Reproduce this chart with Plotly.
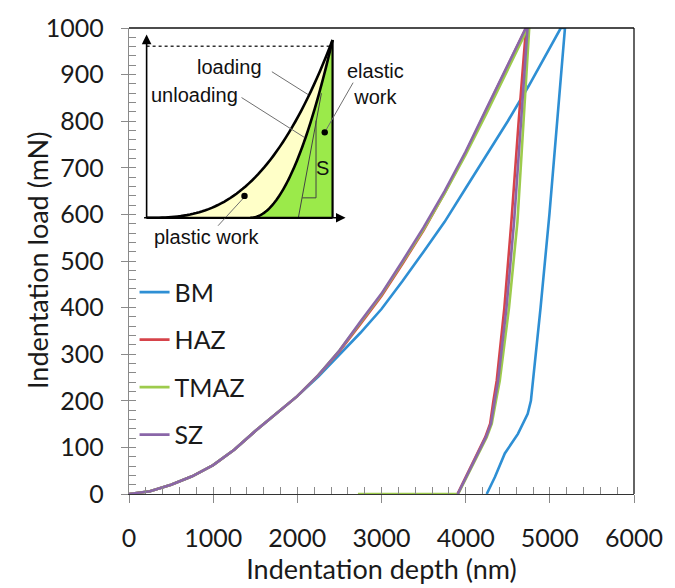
import plotly.graph_objects as go

# ---------------- data ----------------
load_depth = [0, 250, 500, 750, 1000, 1250, 1500, 1750, 2000, 2250, 2500, 2750,
              3000, 3250, 3500, 3750, 4000, 4250, 4500, 4715]
sz_load = [0, 6, 20, 38, 62, 95, 135, 172, 210, 255, 308, 370,
           430, 500, 572, 650, 735, 828, 920, 1000]
haz_load = [0, 6, 20, 38, 62, 95, 135, 172, 210, 255, 306, 365,
            425, 494, 566, 646, 732, 826, 918, 1000]
tmaz_load_depth = [0, 250, 500, 750, 1000, 1250, 1500, 1750, 2000, 2250, 2500, 2750,
                   3000, 3250, 3500, 3750, 4000, 4250, 4500, 4740]
tmaz_load = [0, 6, 20, 38, 62, 95, 135, 172, 210, 255, 308, 368,
             428, 497, 568, 645, 728, 818, 910, 1000]

bm_load_depth = [0, 250, 500, 750, 1000, 1250, 1500, 1750, 2000, 2250, 2500, 2750,
                 3000, 3250, 3500, 3750, 4000, 4250, 4500, 4750, 5000, 5130]
bm_load = [0, 6, 20, 38, 62, 95, 135, 172, 210, 252, 300, 346,
           397, 457, 520, 584, 656, 728, 800, 876, 958, 1000]

unload_load = [1000, 800, 584, 400, 243, 200, 151, 122, 65, 37, 0]
bm_unload_load = [1000, 800, 600, 400, 240, 200, 172, 129, 87, 37, 0]
bm_unload_depth = [5180, 5090, 4995, 4890, 4800, 4775, 4737, 4621, 4465, 4349, 4250]
haz_unload_depth = [4717, 4630, 4543, 4460, 4369, 4330, 4291, 4233, 4078, 4000, 3903]
sz_unload_depth = [4735, 4655, 4575, 4485, 4385, 4345, 4300, 4240, 4080, 4000, 3905]
tmaz_unload_depth = [4755, 4690, 4615, 4515, 4405, 4360, 4310, 4250, 4090, 4010, 3910]
tmaz_tail_depth = [2720]
tmaz_tail_load = [0]

series = ["BM", "HAZ", "TMAZ", "SZ"]
colors = ["#2E8FD4", "#D6434A", "#9DCB4C", "#8A66A8"]

x_ticks = [0, 1000, 2000, 3000, 4000, 5000, 6000]
y_ticks = [0, 100, 200, 300, 400, 500, 600, 700, 800, 900, 1000]

curves = {
    "BM": (bm_load_depth + bm_unload_depth, bm_load + bm_unload_load),
    "HAZ": (load_depth + haz_unload_depth, haz_load + unload_load),
    "TMAZ": (tmaz_load_depth + tmaz_unload_depth + tmaz_tail_depth,
             tmaz_load + unload_load + tmaz_tail_load),
    "SZ": (load_depth + sz_unload_depth, sz_load + unload_load),
}

# ---------------- figure ----------------
W, H = 675, 588
L, R, T, B = 129, 645, 25, 494

fig = go.Figure()
for name, col in zip(series, colors):
    xs, ys = curves[name]
    fig.add_trace(go.Scatter(x=xs, y=ys, mode="lines", name=name,
                             line=dict(color=col, width=2.6),
                             legendgroup=name))

# invisible helper trace for the overlay tick axes
fig.add_trace(go.Scatter(x=[0], y=[0], xaxis="x3", yaxis="y3", mode="markers",
                         marker=dict(opacity=0), showlegend=False, hoverinfo="skip"))

tick_font = dict(family="Lato", size=25, color="#1a1a1a")

fig.update_layout(
    width=W, height=H,
    margin=dict(l=L, r=W - R, t=T, b=H - B),
    paper_bgcolor="white", plot_bgcolor="white",
    font=dict(family="Lato", color="#1a1a1a"),
    xaxis=dict(range=[0, 6000], tickvals=x_ticks, ticks="outside", ticklen=8,
               tickcolor="#8a8a8a", tickwidth=1, showline=True, linecolor="#333333",
               linewidth=1.3, showgrid=False, zeroline=False, tickfont=tick_font,
               ticklabelstandoff=14,
               title=dict(text="Indentation depth (nm)", font=dict(family="Lato", size=27),
                          standoff=5)),
    yaxis=dict(range=[0, 1000], tickvals=y_ticks, ticks="outside", ticklen=7,
               tickcolor="#8a8a8a", tickwidth=1, showline=True, linecolor="#8a8a8a",
               linewidth=1.3, showgrid=False, zeroline=False, tickfont=tick_font,
               ticklabelstandoff=12),
    xaxis3=dict(range=[0, 6000], overlaying="x", anchor="y", side="bottom",
                dtick=200, tick0=0, ticks="inside", ticklen=7, tickcolor="#8a8a8a",
                showticklabels=False, showline=False, showgrid=False, zeroline=False),
    yaxis3=dict(range=[0, 1000], overlaying="y", anchor="x", side="left",
                dtick=20, tick0=0, ticks="inside", ticklen=7, tickcolor="#8a8a8a",
                showticklabels=False, showline=False, showgrid=False, zeroline=False),
    legend=dict(x=0.011, y=0.482, xanchor="left", yanchor="top",
                font=dict(family="Lato", size=25, color="#1a1a1a"),
                bgcolor="rgba(0,0,0,0)", tracegroupgap=12, itemwidth=30),
    showlegend=True,
)

# y-axis title placed as rotated text
fig.add_annotation(x=(35 - L) / (R - L), y=0.5, xref="paper", yref="paper",
                   text="Indentation load (mN)", textangle=-90, showarrow=False,
                   xanchor="center", yanchor="middle",
                   font=dict(family="Lato", size=27, color="#1a1a1a"))

# ---------------- frame (top / right border) ----------------
fig.add_shape(type="line", xref="paper", yref="paper", x0=0, y0=1, x1=1, y1=1,
              line=dict(color="#111111", width=1.6))
fig.add_shape(type="line", xref="paper", yref="paper", x0=1, y0=0, x1=1, y1=1,
              line=dict(color="#111111", width=1.3))

# ---------------- inset schematic ----------------
def P(px, py):
    return (px - L) / (R - L), (B - py) / (B - T)

OX, OY, SX, SY = 147, 216, 190, 179   # inset origin and size in pixels

def U(u, v):
    return P(OX + SX * u, OY - SY * v)

def path_of(pts, close=False):
    s = "M " + " L ".join(f"{x:.5f},{y:.5f}" for x, y in pts)
    return s + (" Z" if close else "")

N = 60
m_load, u0, m_unl = 2.75, 0.558, 2.0
loading_pts = [U(i / N, (i / N) ** m_load) for i in range(N + 1)]
unloading_pts = [U(u0 + (1 - u0) * i / N, (i / N) ** m_unl) for i in range(N + 1)]

fig.add_shape(type="path", xref="paper", yref="paper",
              path=path_of(loading_pts + unloading_pts[::-1], close=True),
              fillcolor="#FFFFC8", line=dict(width=0), layer="above")
fig.add_shape(type="path", xref="paper", yref="paper",
              path=path_of(unloading_pts + [U(1, 0)], close=True),
              fillcolor="#9BEA4A", line=dict(width=0), layer="above")

# dotted max-load line
x0, y0 = U(0, 0.965); x1, y1 = U(1, 0.965)
fig.add_shape(type="line", xref="paper", yref="paper", x0=x0, y0=y0, x1=x1, y1=y1,
              line=dict(color="#333333", width=1.5, dash="dot"))

# thin construction lines (tangent S and triangle)
thin = dict(color="#444444", width=1)
fig.add_shape(type="path", xref="paper", yref="paper",
              path=path_of([U(0.816, 0), U(0.94, 0.70)]), line=thin)
fig.add_shape(type="path", xref="paper", yref="paper",
              path=path_of([U(0.837, 0.112), U(0.911, 0.112), U(0.911, 0.547)]), line=thin)

# black curves
blk = dict(color="#000000", width=2.6)
fig.add_shape(type="path", xref="paper", yref="paper", path=path_of(loading_pts), line=blk)
fig.add_shape(type="path", xref="paper", yref="paper", path=path_of(unloading_pts), line=blk)
fig.add_shape(type="path", xref="paper", yref="paper",
              path=path_of([U(1, 0), U(1, 1.0)]), line=dict(color="#000000", width=2.2))
fig.add_shape(type="path", xref="paper", yref="paper",
              path=path_of([U(0, 0), U(1.0, 0)]), line=dict(color="#000000", width=2.2))

# axis arrows
hx, hy = U(1.07, 0)
fig.add_annotation(x=hx, y=hy, xref="paper", yref="paper", ax=-203, ay=0,
                   showarrow=True, arrowhead=2, arrowsize=1.2, arrowwidth=1.6,
                   arrowcolor="#000000", text="")
vx, vy = U(0, 1.03)
fig.add_annotation(x=vx, y=vy, xref="paper", yref="paper", ax=0, ay=184,
                   showarrow=True, arrowhead=2, arrowsize=1.2, arrowwidth=1.6,
                   arrowcolor="#000000", text="")

# leader lines
lead = dict(color="#707070", width=1)
for a, b in [((275, 69), (312, 92)), ((244, 95), (308, 135)),
             ((220, 224), (247, 195)), ((358, 80), (329, 130))]:
    fig.add_shape(type="path", xref="paper", yref="paper",
                  path=path_of([P(*a), P(*b)]), line=lead)

# dots
for px_, py_ in [(247, 194), (329, 130)]:
    cx, cy = P(px_, py_)
    fig.add_shape(type="circle", xref="paper", yref="paper", xsizemode="pixel",
                  ysizemode="pixel", xanchor=cx, yanchor=cy, x0=-3.2, x1=3.2,
                  y0=-3.2, y1=3.2, fillcolor="#000000", line=dict(width=0))

ifont = dict(family="Liberation Sans", size=20, color="#111111")
for txt, px_, py_ in [("loading", 232, 64), ("unloading", 196, 92),
                      ("plastic work", 208, 235), ("elastic<br>work", 381, 81),
                      ("S", 327, 166)]:
    ax_, ay_ = P(px_, py_)
    fig.add_annotation(x=ax_, y=ay_, xref="paper", yref="paper", text=txt,
                       showarrow=False, font=ifont, xanchor="center", yanchor="middle",
                       align="center")

fig.write_html("out.html")
